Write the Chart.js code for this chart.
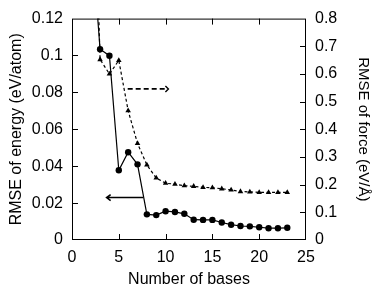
<!DOCTYPE html>
<html>
<head>
<meta charset="utf-8">
<script src="https://cdn.jsdelivr.net/npm/chart.js@4/dist/chart.umd.min.js"></script>
<style>
  body { margin: 0; background: #fff; }
  #wrap { width: 374px; height: 294px; }
</style>
</head>
<body>
<div id="wrap"><canvas id="myChart"></canvas></div>
<script>
// data
let bases = [2, 3, 4, 5, 6, 7, 8, 9, 10, 11, 12, 13, 14, 15, 16, 17, 18, 19, 20, 21, 22, 23];
let energyRmse = [0.17, 0.1034, 0.0999, 0.0378, 0.0476, 0.041, 0.0139, 0.0135, 0.0156, 0.0152, 0.0142,
  0.011, 0.0109, 0.0109, 0.0095, 0.0083, 0.0076, 0.0074, 0.0069, 0.0064, 0.0064, 0.0066];
let forceRmse = [1.8, 0.652, 0.600, 0.649, 0.467, 0.349, 0.271, 0.224, 0.205, 0.202, 0.196,
  0.194, 0.190, 0.189, 0.185, 0.181, 0.175, 0.174, 0.172, 0.172, 0.172, 0.172];

let xTicks = [0, 5, 10, 15, 20, 25];
let energyTicks = [0, 0.02, 0.04, 0.06, 0.08, 0.1, 0.12];
let forceTicks = [0, 0.1, 0.2, 0.3, 0.4, 0.5, 0.6, 0.7, 0.8];

// the two arrows telling which axis goes with which curve
let energyArrowX = [7.6, 3.7];
let energyArrowY = 0.023;
let forceArrowX = [5.95, 10.3];
let forceArrowY = 0.546;

const FONT = "'Liberation Sans', Arial, Helvetica, sans-serif";
const INK = '#000';

let fmt = (v) => String(+Number(v).toFixed(2));

// frame, inward ticks and arrows
const decorations = {
  id: 'decorations',
  afterDatasetsDraw(chart) {
    const ctx = chart.ctx;
    const a = chart.chartArea;
    const sx = chart.scales.x, sy = chart.scales.y, sy1 = chart.scales.y1;
    const tl = 6;
    ctx.save();
    ctx.strokeStyle = INK;
    ctx.lineWidth = 1;
    ctx.setLineDash([]);
    ctx.strokeRect(a.left + 0.5, a.top + 0.5, a.right - a.left - 1, a.bottom - a.top - 1);

    ctx.beginPath();
    xTicks.slice(1, -1).forEach((v) => {
      let px = Math.round(sx.getPixelForValue(v)) + 0.5;
      ctx.moveTo(px, a.bottom); ctx.lineTo(px, a.bottom - tl);
      ctx.moveTo(px, a.top); ctx.lineTo(px, a.top + tl);
    });
    energyTicks.slice(1, -1).forEach((v) => {
      let py = Math.round(sy.getPixelForValue(v)) + 0.5;
      ctx.moveTo(a.left, py); ctx.lineTo(a.left + tl, py);
    });
    forceTicks.slice(1, -1).forEach((v) => {
      let py = Math.round(sy1.getPixelForValue(v)) + 0.5;
      ctx.moveTo(a.right, py); ctx.lineTo(a.right - tl, py);
    });
    ctx.stroke();

    // solid arrow pointing left (energy axis)
    let ex0 = sx.getPixelForValue(energyArrowX[0]);
    let ex1 = sx.getPixelForValue(energyArrowX[1]);
    let ey = sy.getPixelForValue(energyArrowY);
    ctx.lineWidth = 1.6;
    ctx.beginPath();
    ctx.moveTo(ex0, ey); ctx.lineTo(ex1, ey);
    ctx.moveTo(ex1 + 4, ey - 3); ctx.lineTo(ex1, ey); ctx.lineTo(ex1 + 4, ey + 3);
    ctx.stroke();

    // dashed arrow pointing right (force axis)
    let fx0 = sx.getPixelForValue(forceArrowX[0]);
    let fx1 = sx.getPixelForValue(forceArrowX[1]);
    let fy = sy1.getPixelForValue(forceArrowY);
    ctx.lineWidth = 1.8;
    ctx.setLineDash([5, 3]);
    ctx.beginPath();
    ctx.moveTo(fx0, fy); ctx.lineTo(fx1 - 2, fy);
    ctx.stroke();
    ctx.setLineDash([]);
    ctx.lineWidth = 1.4;
    ctx.beginPath();
    ctx.moveTo(fx1 - 3, fy - 3); ctx.lineTo(fx1, fy); ctx.lineTo(fx1 - 3, fy + 3);
    ctx.stroke();
    ctx.restore();
  }
};

var ctx = document.getElementById('myChart').getContext('2d');
var myChart = new Chart(ctx, {
  type: 'line',
  data: {
    datasets: [{
      label: 'energy',
      data: bases.map((b, i) => ({ x: b, y: energyRmse[i] })),
      yAxisID: 'y',
      borderColor: INK,
      backgroundColor: INK,
      borderWidth: 1.2,
      pointStyle: 'circle',
      pointRadius: 3.2,
      pointBorderWidth: 0,
      tension: 0
    }, {
      label: 'force',
      data: bases.map((b, i) => ({ x: b, y: forceRmse[i] })),
      yAxisID: 'y1',
      borderColor: INK,
      backgroundColor: INK,
      borderWidth: 1.2,
      borderDash: [3, 2.5],
      pointStyle: 'triangle',
      pointRadius: 3.2,
      pointBorderWidth: 0,
      tension: 0
    }]
  },
  options: {
    responsive: true,
    maintainAspectRatio: false,
    animation: false,
    layout: { padding: { top: 9, left: 0, right: 0, bottom: 0 } },
    plugins: { legend: { display: false }, tooltip: { enabled: false } },
    scales: {
      x: {
        type: 'linear',
        min: 0, max: 25,
        afterBuildTicks: (s) => { s.ticks = xTicks.map((v) => ({ value: v })); },
        afterFit: (s) => { s.height = 54; },
        grid: { display: false, drawTicks: false },
        border: { display: false },
        ticks: { color: INK, padding: 8, font: { family: FONT, size: 16 }, callback: fmt, maxRotation: 0 },
        title: { display: true, text: 'Number of bases', color: INK, font: { family: FONT, size: 16 }, padding: { top: 0, bottom: 5 } }
      },
      y: {
        position: 'left',
        min: 0, max: 0.12,
        afterBuildTicks: (s) => { s.ticks = energyTicks.map((v) => ({ value: v })); },
        afterFit: (s) => { s.width = 72; },
        grid: { display: false, drawTicks: false },
        border: { display: false },
        ticks: { color: INK, padding: 9, font: { family: FONT, size: 16 }, callback: fmt },
        title: { display: true, text: 'RMSE of energy (eV/atom)', color: INK, font: { family: FONT, size: 16 }, padding: { top: 7, bottom: 0 } }
      },
      y1: {
        position: 'right',
        min: 0, max: 0.8,
        afterBuildTicks: (s) => { s.ticks = forceTicks.map((v) => ({ value: v })); },
        afterFit: (s) => { s.width = 68; },
        grid: { display: false, drawTicks: false },
        border: { display: false },
        ticks: { color: INK, padding: 9, font: { family: FONT, size: 16 }, callback: fmt },
        title: { display: true, text: 'RMSE of force (eV/Å)', color: INK, font: { family: FONT, size: 15 }, padding: { top: 2, bottom: 0 } }
      }
    }
  },
  plugins: [decorations]
});
</script>
</body>
</html>
